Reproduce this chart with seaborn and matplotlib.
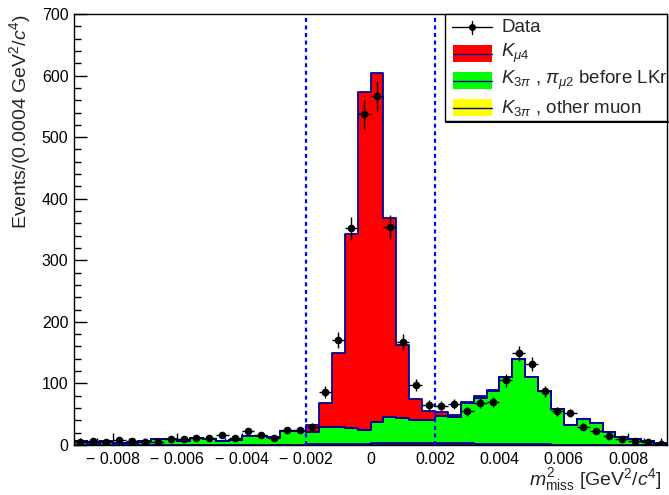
import numpy as np
import pandas as pd
import matplotlib
matplotlib.use("Agg")
import matplotlib.pyplot as plt
from matplotlib.patches import Rectangle
from matplotlib.lines import Line2D
import seaborn as sns

# binning of the missing mass squared histogram (GeV^2/c^4)
x_lo, x_hi, n_bins = -0.0092, 0.0092, 46
cut_lo, cut_hi = -0.002, 0.002

# events per bin
data_counts = [5, 7, 5, 8, 7, 5, 5, 9, 10, 12, 12, 17, 12, 22, 17, 12,
               24, 25, 30, 86, 171, 352, 537, 567, 354, 167, 98, 65, 63, 66,
               55, 68, 70, 105, 149, 131, 87, 55, 52, 30, 22, 15, 10, 6, 5, 2]

kmu4 = [0, 0, 0, 0, 0, 0, 0, 0, 0, 0, 0, 0, 0, 0, 0, 0,
        0, 0, 10.7, 38.6, 121, 315, 549, 567, 323, 119, 34, 14, 6, 4.5,
        2.5, 2, 1, 0.5, 0, 0, 0, 0, 0, 0, 0, 0, 0, 0, 0, 0]

k3pi_pimu2 = [5.5, 3.5, 5.5, 3.5, 2, 5.5, 8.5, 9, 6.5, 11.5, 9.5, 6.5, 7.5, 14.5, 14.5, 12.5,
              23, 23, 20, 29, 27.5, 25.5, 23, 34, 42, 41, 38, 38, 44, 42,
              65.5, 75, 86.5, 109, 138, 108.5, 87.5, 58.5, 32.5, 42.5, 35.5, 20, 13, 9.8, 6.5, 3.5]

k3pi_other = [0.5, 0.5, 0.5, 0.5, 0.5, 0.5, 0.5, 0.5, 0.5, 0.5, 0.5, 0.5, 0.5, 0.5, 0.5, 0.5,
              0.5, 0.5, 1, 1, 1.5, 1.5, 2, 3, 3, 3, 3, 3, 3, 3,
              2.5, 2, 1.5, 1.5, 1.5, 1.5, 1, 0.5, 0.5, 0.5, 0.5, 0.5, 0.5, 0.5, 0.5, 0.5]

comp_names = ["Kmu4", "K3pi_pimu2", "K3pi_other"]
comp_colors = {"Kmu4": "#ff0000", "K3pi_pimu2": "#00ff00", "K3pi_other": "#ffff00"}
legend_labels = ["Data", r"$K_{\mu4}$", r"$K_{3\pi}$ , $\pi_{\mu2}$ before LKr",
                 r"$K_{3\pi}$ , other muon"]
outline = "#000099"

edges = np.linspace(x_lo, x_hi, n_bins + 1)
centers = 0.5 * (edges[:-1] + edges[1:])
bin_w = edges[1] - edges[0]

df = pd.concat([
    pd.DataFrame({"m2miss": centers, "n": kmu4, "comp": "Kmu4"}),
    pd.DataFrame({"m2miss": centers, "n": k3pi_pimu2, "comp": "K3pi_pimu2"}),
    pd.DataFrame({"m2miss": centers, "n": k3pi_other, "comp": "K3pi_other"}),
], ignore_index=True)

sns.set_style("ticks")
plt.rcParams['font.family'] = ['Liberation Sans', 'DejaVu Sans']
plt.rcParams['mathtext.fontset'] = 'custom'
plt.rcParams['mathtext.rm'] = 'Liberation Sans'
plt.rcParams['mathtext.it'] = 'Liberation Sans:italic'
plt.rcParams['mathtext.bf'] = 'Liberation Sans:bold'

W, H = 669, 495
fig = plt.figure(figsize=(W / 100, H / 100), dpi=100)
ax = fig.add_axes([74 / W, 1 - 445 / H, (667 - 74) / W, (445 - 14) / H])

sns.histplot(data=df, x="m2miss", weights="n", hue="comp", hue_order=comp_names,
             bins=n_bins, binrange=(x_lo, x_hi), multiple="stack", element="step",
             fill=True, alpha=1, palette=comp_colors, edgecolor=outline, linewidth=1.3,
             legend=False, ax=ax)

for xc in (cut_lo, cut_hi):
    ax.axvline(xc, color="#0000ff", ls=(0, (1.8, 1.6)), lw=1.6, zorder=3)

counts = np.array(data_counts, dtype=float)
ax.errorbar(centers, counts, xerr=bin_w / 2, yerr=np.sqrt(counts), fmt="o",
            color="black", ms=4.5, elinewidth=1, capsize=0, zorder=4)

ax.set_xlim(x_lo, x_hi)
ax.set_ylim(0, 700)
ax.set_xlabel("")
ax.set_ylabel("")

xt = [-0.008, -0.006, -0.004, -0.002, 0, 0.002, 0.004, 0.006, 0.008]
xt_labels = ["0" if v == 0 else ("\u2212 %.3f" % abs(v) if v < 0 else "%.3f" % v) for v in xt]
ax.set_xticks(xt)
ax.set_xticklabels(xt_labels)
ax.set_xticks(np.arange(-0.009, 0.0091, 0.0005), minor=True)
ax.set_yticks(np.arange(0, 701, 100))
ax.set_yticks(np.arange(0, 701, 20), minor=True)
ax.tick_params(axis="both", which="both", direction="in", colors="black",
               labelsize=11.5, width=1)
ax.tick_params(axis="both", which="major", length=9)
ax.tick_params(axis="both", which="minor", length=5)
ax.tick_params(axis="x", pad=5)
ax.tick_params(axis="y", pad=4)
for s in ax.spines.values():
    s.set_color("black")
    s.set_linewidth(1)

fig.text(20 / W, 1 - 14 / H, r"Events/(0.0004 GeV$^2$/$c^4$)", rotation=90,
         ha="center", va="top", fontsize=14)
fig.text(662 / W, 1 - 480 / H, r"$m^2_{\rm miss}$ [GeV$^2$/$c^4$]",
         ha="right", va="center", fontsize=14)

# legend box drawn by hand in pixel positions
def fx(x):
    return x / W


def fy(y):
    return 1 - y / H


fig.add_artist(Rectangle((fx(445), fy(121)), fx(667) - fx(445), fy(14) - fy(121),
                         transform=fig.transFigure, facecolor="white",
                         edgecolor="black", lw=1, zorder=5))
fig.add_artist(Line2D([fx(446), fx(668)], [fy(122), fy(122)], transform=fig.transFigure,
                      color="black", lw=1.5, zorder=5))
rows = [27, 53.5, 80.5, 107.5]
fig.add_artist(Line2D([fx(452), fx(492)], [fy(rows[0])] * 2, transform=fig.transFigure,
                      color="black", lw=1, zorder=6))
fig.add_artist(Line2D([fx(472)] * 2, [fy(rows[0] - 6.5), fy(rows[0] + 6.5)],
                      transform=fig.transFigure, color="black", lw=1, zorder=6))
fig.add_artist(Line2D([fx(472)], [fy(rows[0])], transform=fig.transFigure, marker="o",
                      ms=4, color="black", zorder=6))
for yr, name in zip(rows[1:], comp_names):
    fig.add_artist(Rectangle((fx(453), fy(yr + 8.5)), fx(492) - fx(453), fy(yr - 8.5) - fy(yr + 8.5),
                             transform=fig.transFigure, facecolor=comp_colors[name],
                             edgecolor="none", zorder=6))
    fig.add_artist(Line2D([fx(453), fx(492)], [fy(yr)] * 2, transform=fig.transFigure,
                          color=outline, lw=1, zorder=7))
for yr, lab in zip(rows, legend_labels):
    t = fig.text(fx(501), fy(yr), lab, ha="left", va="center", fontsize=13.5, zorder=7)

fig.savefig("out.png", dpi=100)
